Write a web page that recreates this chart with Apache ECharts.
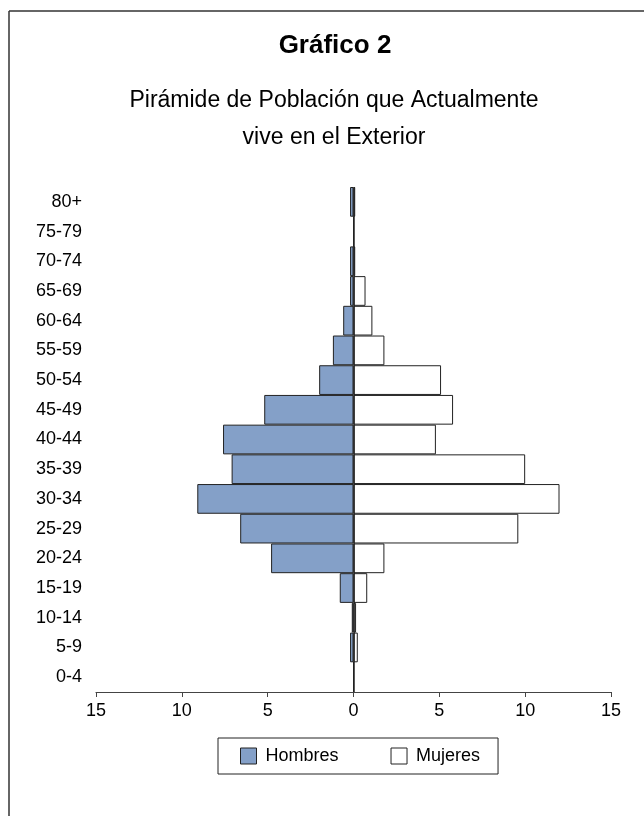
<!DOCTYPE html>
<html>
<head>
<meta charset="utf-8">
<script src="https://cdn.jsdelivr.net/npm/echarts@6/dist/echarts.min.js"></script>
<style>
html,body{margin:0;padding:0;background:#fff;}
#chart{width:644px;height:816px;}
</style>
</head>
<body>
<div id="chart"></div>
<script>
var categories = ['0-4','5-9','10-14','15-19','20-24','25-29','30-34','35-39','40-44','45-49','50-54','55-59','60-64','65-69','70-74','75-79','80+'];
var hombres = [0, 0.2, 0.1, 0.8, 4.8, 6.6, 9.1, 7.1, 7.6, 5.2, 2.0, 1.2, 0.6, 0.2, 0.2, 0, 0.2];
var mujeres = [0, 0.25, 0.15, 0.8, 1.8, 9.6, 12.0, 10.0, 4.8, 5.8, 5.1, 1.8, 1.1, 0.7, 0.1, 0, 0.1];
var xTicks = {min: -15, max: 15, interval: 5};
var titleText = 'Gráfico 2';
var subtitleText = 'Pirámide de Población que Actualmente\nvive en el Exterior';

var FONT = "'Liberation Sans', Arial, sans-serif";
var chart = echarts.init(document.getElementById('chart'), null, {renderer: 'canvas'});
chart.setOption({
  animation: false,
  backgroundColor: '#fff',
  textStyle: {fontFamily: FONT, color: '#000'},
  graphic: [
    {type: 'line', shape: {x1: 9, y1: 11, x2: 644, y2: 11}, style: {stroke: '#333', lineWidth: 1.5}, silent: true},
    {type: 'line', shape: {x1: 9, y1: 11, x2: 9, y2: 816}, style: {stroke: '#333', lineWidth: 1.5}, silent: true}
  ],
  title: [
    {text: titleText, left: 330, top: 28, textAlign: 'center',
     textStyle: {fontFamily: FONT, fontSize: 26, fontWeight: 'bold', color: '#000'}},
    {text: subtitleText, left: 329, top: 77, textAlign: 'center',
     textStyle: {fontFamily: FONT, fontSize: 23, fontWeight: 'normal', color: '#000', lineHeight: 37}}
  ],
  legend: {
    left: 218, top: 738,
    orient: 'horizontal',
    selectedMode: false,
    borderColor: '#222', borderWidth: 1,
    padding: [9, 18, 9, 22],
    itemGap: 52, itemWidth: 16, itemHeight: 16,
    icon: 'rect',
    textStyle: {fontFamily: FONT, fontSize: 18, color: '#000', padding: [0, 0, 0, 4]},
    data: [
      {name: 'Hombres', itemStyle: {color: '#84A0C8', borderColor: '#222', borderWidth: 1}},
      {name: 'Mujeres', itemStyle: {color: '#fff', borderColor: '#222', borderWidth: 1}}
    ]
  },
  grid: {left: 96, right: 33, top: 187, bottom: 124, containLabel: false},
  xAxis: {
    type: 'value', min: xTicks.min, max: xTicks.max, interval: xTicks.interval,
    axisLine: {show: true, lineStyle: {color: '#444', width: 1.2}},
    axisTick: {show: true, length: 5, lineStyle: {color: '#444'}},
    splitLine: {show: false},
    axisLabel: {fontFamily: FONT, fontSize: 18, color: '#000', margin: 10,
      formatter: function (v) { return String(Math.abs(v)); }}
  },
  yAxis: {
    type: 'category', data: categories,
    axisLine: {show: false}, axisTick: {show: false},
    axisLabel: {fontFamily: FONT, fontSize: 18, color: '#000', margin: 14}
  },
  series: [
    {
      name: 'Hombres', type: 'bar', stack: 'pop', barCategoryGap: 0,
      data: hombres.map(function (v) { return -v; }),
      itemStyle: {color: '#84A0C8', borderColor: '#222', borderWidth: 1},
      markLine: {
        silent: true, symbol: 'none', label: {show: false},
        lineStyle: {color: '#222', width: 1.5, type: 'solid'},
        data: [{xAxis: 0}]
      }
    },
    {
      name: 'Mujeres', type: 'bar', stack: 'pop', barCategoryGap: 0,
      data: mujeres,
      itemStyle: {color: '#fff', borderColor: '#222', borderWidth: 1}
    }
  ]
});
</script>
</body>
</html>
